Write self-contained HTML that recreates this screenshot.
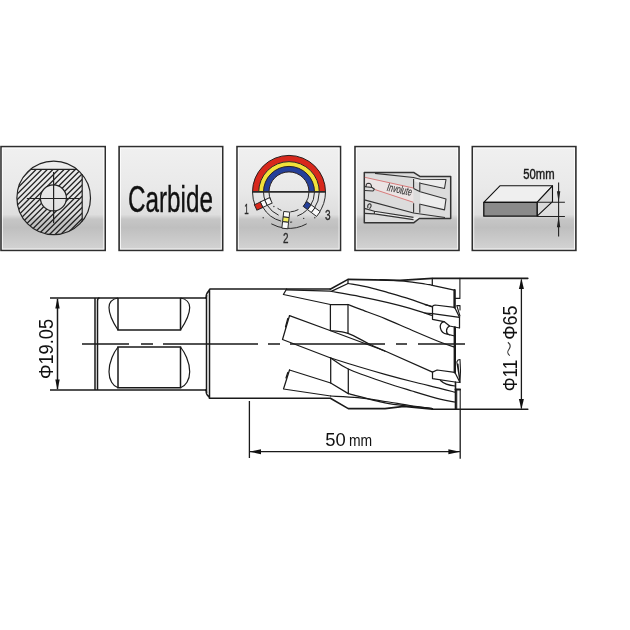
<!DOCTYPE html>
<html><head><meta charset="utf-8">
<style>
html,body{margin:0;padding:0;background:#fff;width:630px;height:630px;overflow:hidden}
svg{display:block;will-change:transform}
text{font-family:"Liberation Sans",sans-serif}
</style></head>
<body>
<svg width="630" height="630" viewBox="0 0 630 630">
<defs>
<linearGradient id="bg" x1="0" y1="0" x2="0" y2="1">
<stop offset="0" stop-color="#f0f0f0"/>
<stop offset="0.4" stop-color="#e9e9e9"/>
<stop offset="0.655" stop-color="#dedede"/>
<stop offset="0.70" stop-color="#c6c6c6"/>
<stop offset="0.78" stop-color="#bfbfbf"/>
<stop offset="1" stop-color="#d4d4d4"/>
</linearGradient>
</defs>
<rect width="630" height="630" fill="#fff"/>
<!-- icon boxes -->
<g id="boxes">
<rect x="1.0" y="146.6" width="104.2" height="103.8" fill="url(#bg)" stroke="#2e2e2e" stroke-width="1.6"/>
<rect x="2.4" y="148.1" width="101.4" height="100.9" fill="none" stroke="#fff" stroke-opacity="0.8" stroke-width="1"/>
<rect x="119.1" y="146.6" width="103.6" height="103.8" fill="url(#bg)" stroke="#2e2e2e" stroke-width="1.6"/>
<rect x="120.5" y="148.1" width="100.8" height="100.9" fill="none" stroke="#fff" stroke-opacity="0.8" stroke-width="1"/>
<rect x="237.0" y="146.6" width="103.5" height="103.8" fill="url(#bg)" stroke="#2e2e2e" stroke-width="1.6"/>
<rect x="238.4" y="148.1" width="100.7" height="100.9" fill="none" stroke="#fff" stroke-opacity="0.8" stroke-width="1"/>
<rect x="355.0" y="146.6" width="104.0" height="103.8" fill="url(#bg)" stroke="#2e2e2e" stroke-width="1.6"/>
<rect x="356.4" y="148.1" width="101.2" height="100.9" fill="none" stroke="#fff" stroke-opacity="0.8" stroke-width="1"/>
<rect x="472.3" y="146.6" width="103.6" height="103.8" fill="url(#bg)" stroke="#2e2e2e" stroke-width="1.6"/>
<rect x="473.7" y="148.1" width="100.8" height="100.9" fill="none" stroke="#fff" stroke-opacity="0.8" stroke-width="1"/>
</g>
<text x="128" y="211.5" font-size="36" textLength="85" lengthAdjust="spacingAndGlyphs" fill="#111" stroke="#111" stroke-width="0.35">Carbide</text>


<defs>
<clipPath id="c1"><circle cx="53.7" cy="197.9" r="36.8"/></clipPath>
<mask id="m1" maskUnits="userSpaceOnUse" x="0" y="140" width="110" height="110">
<rect x="0" y="140" width="110" height="110" fill="#000"/>
<g clip-path="url(#c1)"><rect x="0" y="169.2" width="82.2" height="80" fill="#fff"/></g>
<circle cx="53.4" cy="197.9" r="13" fill="#000"/>
</mask>
</defs>
<!-- icon1 -->
<g fill="none" stroke="#222">
<path d="M17.60 160L-62.40 240M23.20 160L-56.80 240M28.80 160L-51.20 240M34.40 160L-45.60 240M40.00 160L-40.00 240M45.60 160L-34.40 240M51.20 160L-28.80 240M56.80 160L-23.20 240M62.40 160L-17.60 240M68.00 160L-12.00 240M73.60 160L-6.40 240M79.20 160L-0.80 240M84.80 160L4.80 240M90.40 160L10.40 240M96.00 160L16.00 240M101.60 160L21.60 240M107.20 160L27.20 240M112.80 160L32.80 240M118.40 160L38.40 240M124.00 160L44.00 240M129.60 160L49.60 240M135.20 160L55.20 240M140.80 160L60.80 240M146.40 160L66.40 240M152.00 160L72.00 240M157.60 160L77.60 240M163.20 160L83.20 240M168.80 160L88.80 240M174.40 160L94.40 240M180.00 160L100.00 240" stroke-width="1.25" mask="url(#m1)"/>
<circle cx="53.7" cy="197.9" r="36.8" stroke-width="1.2"/>
<circle cx="53.4" cy="197.9" r="13" stroke-width="1.2"/>
<path d="M30.4 169.3H77M82.2 174.3V221.5M26.8 198.5H79.5M53.6 171.9V223.2" stroke-width="1.2"/>
</g>
<!-- icon3 -->
<path d="M255.60 191.90A33.4 33.4 0 0 1 322.40 191.90" fill="none" stroke="#d8281c" stroke-width="6.2"/>
<path d="M261.10 191.90A27.9 27.9 0 0 1 316.90 191.90" fill="none" stroke="#f2e23a" stroke-width="4.8"/>
<path d="M266.25 191.90A22.75 22.75 0 0 1 311.75 191.90" fill="none" stroke="#25409a" stroke-width="5.5"/>
<path d="M252.50 191.90A36.5 36.5 0 0 1 325.50 191.90M258.70 191.90A30.3 30.3 0 0 1 319.30 191.90M263.50 191.90A25.5 25.5 0 0 1 314.50 191.90M269.00 191.90A20 20 0 0 1 309.00 191.90" fill="none" stroke="#2a2020" stroke-width="1.0"/>
<path d="M252.50 191.90A36.5 36.5 0 0 0 255.40 206.16M271.30 223.82A36.5 36.5 0 0 0 285.18 228.20M285.18 228.20A36.5 36.5 0 0 0 306.70 223.82M318.15 213.87A36.5 36.5 0 0 0 325.50 191.90M262.76 207.05A30.3 30.3 0 0 0 281.16 221.17M290.06 222.18A30.3 30.3 0 0 0 292.17 222.03M313.82 209.28A30.3 30.3 0 0 0 319.30 191.90M263.50 191.90A25.5 25.5 0 0 0 265.53 201.86M267.37 205.41A25.5 25.5 0 0 0 278.63 215.20M297.30 216.01A25.5 25.5 0 0 0 306.71 210.24M309.89 206.53A25.5 25.5 0 0 0 314.50 191.90M269.00 191.90A20.0 20.0 0 0 0 270.87 200.35M277.53 208.28A20.0 20.0 0 0 0 281.51 210.44M290.40 211.85A20.0 20.0 0 0 0 298.39 209.56M305.38 203.37A20.0 20.0 0 0 0 309.00 191.90" fill="none" stroke="#2a2a2a" stroke-width="1.0"/>
<circle cx="263.19" cy="217.71" r="0.7" fill="#333"/>
<circle cx="314.81" cy="217.71" r="0.7" fill="#333"/>
<circle cx="303.69" cy="218.40" r="0.7" fill="#333"/>
<circle cx="273.89" cy="206.49" r="0.7" fill="#333"/>
<g transform="rotate(155 289.0 191.9)"><rect x="309.00" y="188.90" width="5.50" height="6" fill="#fafafa" stroke="#222" stroke-width="0.9"/><rect x="314.50" y="188.90" width="4.80" height="6" fill="#fafafa" stroke="#222" stroke-width="0.9"/><rect x="319.30" y="188.90" width="6.50" height="6" fill="#d8281c" stroke="#222" stroke-width="0.9"/></g>
<g transform="rotate(96.5 289.0 191.9)"><rect x="309.00" y="188.90" width="5.50" height="6" fill="#fafafa" stroke="#222" stroke-width="0.9"/><rect x="314.50" y="188.90" width="4.80" height="6" fill="#f2ee60" stroke="#222" stroke-width="0.9"/><rect x="319.30" y="188.90" width="6.50" height="6" fill="#fafafa" stroke="#222" stroke-width="0.9"/></g>
<g transform="rotate(37 289.0 191.9)"><rect x="309.00" y="188.90" width="5.50" height="6" fill="#25409a" stroke="#222" stroke-width="0.9"/><rect x="314.50" y="188.90" width="4.80" height="6" fill="#fafafa" stroke="#222" stroke-width="0.9"/><rect x="319.30" y="188.90" width="6.50" height="6" fill="#fafafa" stroke="#222" stroke-width="0.9"/></g>
<path d="M252 191.9H326" stroke="#2a2a2a" stroke-width="1.7"/>
<g fill="#2a2a2a" stroke="#2a2a2a" stroke-width="0.3" font-size="13.8">
<text x="244.3" y="214.4" textLength="4.5" lengthAdjust="spacingAndGlyphs">1</text>
<text x="283" y="243" textLength="5.5" lengthAdjust="spacingAndGlyphs">2</text>
<text x="325" y="220.4" textLength="5.6" lengthAdjust="spacingAndGlyphs">3</text>
</g>
<!-- /icon3 -->
<!-- icon45 -->
<g stroke-linejoin="round">
<!-- involute icon -->
<path d="M364.3 172.4H413.6L420.2 176.6H450.7V218.5H419.3L413.6 222.8H364.3Z" fill="#dcdcdc" stroke="none"/>
<path d="M364.3 177.3L413.4 188L413.4 202.3L374.5 189.5L364.3 186Z" fill="#ebe4e4"/>
<path d="M413.6 179.2L446 179.5L444.5 188.5L420.2 183.2L413.6 181Z" fill="#ececec"/>
<path d="M420.2 191.8L446 199L444.5 209.9L420.2 204.2Z" fill="#ececec"/>
<path d="M374.4 211.3L413.5 217.4L445 217.8L413.5 219.6L374.4 213.9Z" fill="#ececec"/>
<g fill="none" stroke="#333" stroke-width="1.1">
<path d="M364.3 172.4H413.6L420.2 176.6H450.7V218.5H419.3L413.6 222.8H364.3Z" stroke-width="1.5"/>
<path d="M375 173.4L413.4 177.5L420.2 179.2L446 179.5L444.5 188.5L420.2 183.2"/>
<path d="M420.2 191.8L446 199L444.5 209.9L420.2 204.2M413.6 188.5L420.2 191.8"/>
<path d="M413.6 179V188.5M419.8 182.3V191.3M413.6 203.2V212.8M419.8 203.7V212.8"/>
<path d="M365 186.6L372 187.5L374.5 189.2L373 191L365 190.5M366.3 186.5Q365.5 183.5 368.5 183.3Q371.5 183.5 371.5 187"/>
<path d="M364.4 199.9L413.5 213L445 217.5"/>
<path d="M368 208Q367 204.5 369.5 203.8Q371.5 204 371 206.5L369.5 208.8"/>
<path d="M364.4 208.4L374.4 211.3V213.9L364.4 213.4M374.4 211.3L413.5 217.4M374.4 213.9L413.5 219.6"/>
</g>
<path d="M364.8 177.3L413.4 188M374.8 189.5L413.4 202.3" fill="none" stroke="#d66f6f" stroke-width="0.9"/>
<text transform="translate(386.6 190.6) rotate(12)" font-size="11" font-style="italic" fill="#3a3a3a" stroke="#3a3a3a" stroke-width="0.2" textLength="25" lengthAdjust="spacingAndGlyphs">Involute</text>
<!-- block icon -->
<g transform="translate(0 0.7)">
<path d="M483.8 201.6L499.9 185.1H552.5L537.1 201.6Z" fill="#efefef" stroke="#111" stroke-width="1.1"/>
<path d="M537.1 201.6L552.5 185.1V200.9L537.1 215.5Z" fill="#dadada" stroke="#111" stroke-width="1.1"/>
<rect x="483.8" y="201.6" width="53.3" height="13.9" fill="#8a8a8a" stroke="#111" stroke-width="1.3"/>
<path d="M537.1 201.6H564.9M537.1 215.8H564.9M558.6 181.9V235.9" fill="none" stroke="#222" stroke-width="1.1"/>
<path d="M558.6 201.6L556.9 190.5H560.3ZM558.6 215.8L556.9 226.5H560.3Z" fill="#222"/>
<text x="523.3" y="178.5" font-size="14.2" fill="#1a1a1a" stroke="#1a1a1a" stroke-width="0.45" textLength="31.3" lengthAdjust="spacingAndGlyphs">50mm</text>
</g>
</g>
<!-- /icon45 -->
<!-- main drawing -->
<g fill="none" stroke="#1a1a1a" stroke-width="1.5">
<!-- Phi19.05 dim -->
<path d="M50 298H206M50 390H206"/>
<path d="M57.5 299V389"/>
<!-- shank -->
<path d="M95 298V390M97.5 301Q97.5 298 99.5 298M97.5 301V390"/>
<path d="M205 298Q206.5 298 206.5 295M205 390Q206.5 390 206.5 393"/>
<!-- flats -->
<path d="M118 298V330H180.5V298"/>
<path stroke-width="1.2" d="M118 298C112 299 109 303 109 307.5C109 314 114 324 118 330M180.5 298C186.5 299 189.7 303 189.7 307.5C189.7 314 184.5 324 180.5 330"/>
<path d="M118 347H180.5V387.8H118Z"/>
<path stroke-width="1.2" d="M118 347C114 352 109 362 109 371.7C109 380 113 386 118 387.8M180.5 347C184.5 352 189.7 362 189.7 371.7C189.7 380 185.5 386 180.5 387.8"/>
<!-- body -->
<path d="M206.5 294V394M209.5 289V399M206.5 294L210 289H330.4M206.5 394L210 398.3H330.4"/>
</g>
<!-- arrows -->
<g fill="#111">
<path d="M57.5 298L55.3 308.5H59.7Z"/>
<path d="M57.5 390L55.3 379.5H59.7Z"/>
</g>
<g fill="none" stroke="#1a1a1a" stroke-width="1.5">
<path d="M82 344H129M141 344H153M163 344H258M268 344H280M290 344H385M396 344H407M418 344H465"/>
</g>
<text transform="translate(52.7 379) rotate(-90)" font-size="19.5" textLength="60" lengthAdjust="spacingAndGlyphs" fill="#111">Φ19.05</text>

<!-- cutter head -->
<g fill="none" stroke="#1a1a1a" stroke-width="1.25" stroke-linejoin="round" stroke-linecap="round">
<path stroke-width="1.6" d="M330.2 289.2L348 279.4L400 280.4L432.3 278.4H527.8"/>
<path stroke-width="1.6" d="M330.4 398.3L348.3 408.6H385L404 406.4L432.5 409.2H527.8"/>
<path d="M286.6 289L283.4 294.5L330.4 304.5H348"/>
<path d="M286.6 289.8L330.4 291.2"/>
<path d="M331.3 291.4L348 283.5V279.4"/>
<path d="M348 304.5C350.00 305.28 353.83 306.85 360 309.2C366.17 311.55 376.43 315.13 385 318.6C393.57 322.07 402.23 326.10 411.4 330C420.57 333.90 432.77 339.13 440 342C447.23 344.87 452.33 346.33 454.8 347.2"/>
<path d="M348 283.5C351.67 284.18 363.33 286.08 370 287.6C376.67 289.12 381.33 290.67 388 292.6C394.67 294.53 402.62 296.80 410 299.2C417.38 301.60 428.58 305.70 432.3 307"/>
<path d="M331.3 291.5C336.08 292.35 350.55 294.75 360 296.6C369.45 298.45 379.67 300.63 388 302.6C396.33 304.57 402.58 306.25 410 308.4C417.42 310.55 428.75 314.32 432.5 315.5"/>
<path d="M380 279.6C384.00 279.87 396.50 280.47 404 281.2C411.50 281.93 420.28 283.30 425 284C429.72 284.70 427.43 284.37 432.3 285.4C437.17 286.43 450.55 289.40 454.2 290.2"/>
<path d="M432.3 278.4V285.4"/>
<path d="M330.4 304.5V330.5M348 304.5V333.3M330.7 358V383M348.3 369V393.6"/>
<path d="M287.8 318.5L285.5 327M289.5 315.7L330 330.5L385 351L432.5 372.1"/>
<path d="M330.4 330.5C333.33 330.97 341.60 331.08 348 333.3C354.40 335.52 362.63 340.82 368.8 343.8C374.97 346.78 382.30 349.97 385 351.2"/>
<path d="M289.5 315.7L282.5 339.5L330.7 358"/>
<path d="M330.7 358C335.25 359.42 348.95 363.78 358 366.5C367.05 369.22 376.00 371.80 385 374.3C394.00 376.80 402.83 379.17 412 381.5C421.17 383.83 432.87 386.52 440 388.3C447.13 390.08 452.33 391.55 454.8 392.2"/>
<path d="M330.7 358C333.63 359.83 339.25 364.92 348.3 369C357.35 373.08 374.38 378.83 385 382.5C395.62 386.17 402.83 388.22 412 391C421.17 393.78 432.87 397.37 440 399.2C447.13 401.03 452.33 401.53 454.8 402"/>
<path d="M289.5 370L283.5 389L330.7 396"/>
<path d="M287.8 372.5L286 378"/>
<path d="M330.7 396C335.25 396.27 348.95 396.68 358 397.6C367.05 398.52 376.33 400.18 385 401.5C393.67 402.82 402.08 404.32 410 405.5C417.92 406.68 428.75 408.08 432.5 408.6"/>
<path d="M289.5 370L330.7 383L348.3 393.6"/>
<path d="M348.3 393.6C354.42 395.13 374.72 400.70 385 402.8C395.28 404.90 402.08 405.23 410 406.2C417.92 407.17 428.75 408.20 432.5 408.6"/>
<path stroke-width="1.1" d="M459.9 278.4V298.4H455.5"/>
<path stroke-width="2.4" d="M454.6 290.2V307.3M454.8 327.5V372.2"/>
<path stroke-width="1.6" d="M455.5 382V409"/>
<path d="M432.5 306.5Q433 305 435 305L454.6 307.3L459.5 317.3L459.5 328L449.6 326L444 321.6L432.5 319.3Z"/>
<path d="M425 304.6L432.5 306.5M425 313L432.5 313.6L459.5 317.3"/>
<path stroke-width="1.1" d="M456.8 305.6H460V310M456.8 305.6L460 316"/>
<path d="M444 321.6C438 323.5 439.5 333 447 334.2L454.8 336M449.6 326C445.5 328 445.5 333.5 449.5 335"/>
<path d="M432.5 372.1L437.1 370L454.8 372.3L460 382.5L455 382L432.5 378.6Z"/>
<path d="M440.5 380.5Q445 385 455 386"/>
<path stroke-width="1.1" d="M456.8 362L458 360L460 359.5L460.5 371L460 382M456.8 362L460 382M458 364L459.2 376"/>
<path stroke-width="1.1" d="M456.7 389.4V409M460.2 389.4V409"/>
<path stroke-width="2" d="M455.5 389.4H460"/>
</g>
<!-- /cutter head -->
<g fill="none" stroke="#1a1a1a" stroke-width="1.3">
<!-- 50mm dim -->
<path d="M249.4 401V458M460.2 410V458.7M250 451.7H459.5"/>
<!-- phi 65 dim -->
<path d="M521.4 279.5V408.5"/>
</g>
<g fill="#111">
<path d="M249.4 451.7L261 449.2V454.2Z"/>
<path d="M460 451.7L448.4 449.2V454.2Z"/>
<path d="M521.4 278.6L518.9 289V289H523.9Z"/>
<path d="M521.4 409.3L518.9 399H523.9Z"/>
</g>
<text x="325.2" y="446.2" font-size="18" textLength="20.5" lengthAdjust="spacingAndGlyphs" fill="#111">50</text>
<text x="349" y="446" font-size="16" textLength="23.2" lengthAdjust="spacingAndGlyphs" fill="#111">mm</text>
<text transform="translate(516.7 391.3) rotate(-90)" font-size="19.5" textLength="31.8" lengthAdjust="spacingAndGlyphs" fill="#111">Φ11</text>
<text transform="translate(516.7 339.7) rotate(-90)" font-size="19.5" textLength="34.1" lengthAdjust="spacingAndGlyphs" fill="#111">Φ65</text>
<path d="M507.9 342.2C510.6 344.3 510.6 347 509 349.2S506.6 353.2 509.8 355.6" fill="none" stroke="#333" stroke-width="1.1"/>
</svg>
</body></html>
